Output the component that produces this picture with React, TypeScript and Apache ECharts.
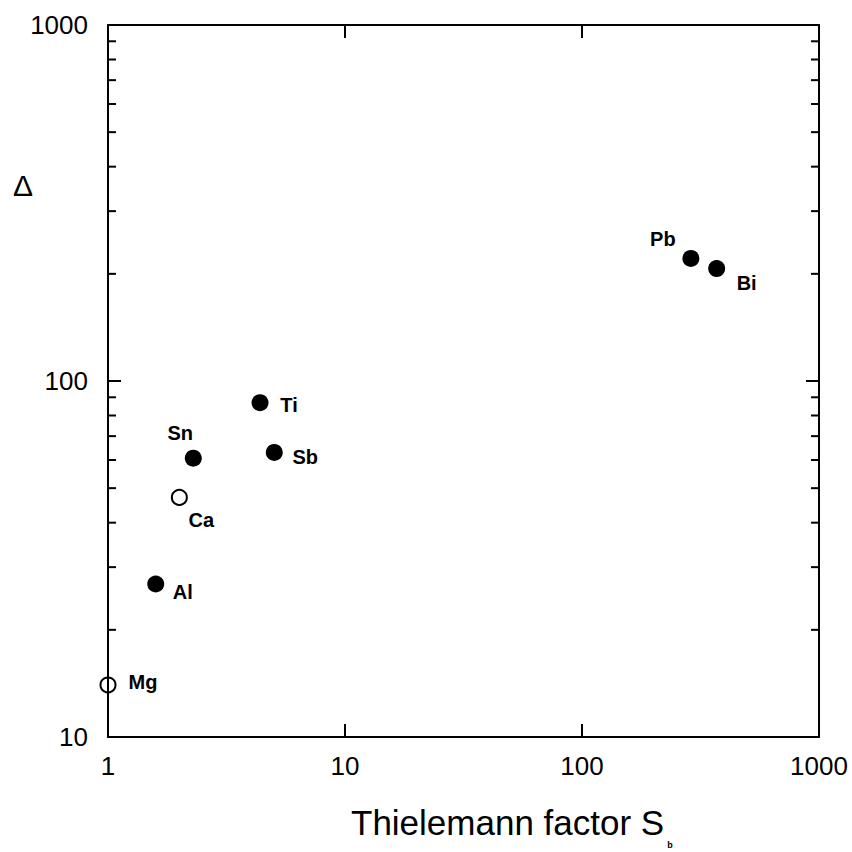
import React, { useEffect, useRef } from "react";
import * as echarts from "echarts";

// Filled symbols
const filledNames = ["Al", "Sn", "Ti", "Sb", "Pb", "Bi"];
const filledX = [1.59, 2.29, 4.38, 5.03, 288, 370];
const filledY = [26.9, 60.7, 86.9, 63.0, 221, 207];

// Open symbols
const openNames = ["Mg", "Ca"];
const openX = [1.0, 2.0];
const openY = [14.0, 47.1];

// Axis ranges and minor tick values
const xRange = [1, 1000];
const yRange = [10, 1000];
const yMinorTicks = [20, 30, 40, 50, 60, 70, 80, 90, 200, 300, 400, 500, 600, 700, 800, 900];

const xTitle = "Thielemann factor S";
const xTitleSub = "b";
const yTitle = "Δ";

// label offsets (style, in pixels)
const labelOffsets: Record<string, [number, number]> = {
  Al: [27, 8],
  Sn: [-13, -25],
  Ti: [29, 2],
  Sb: [31, 5],
  Pb: [-28, -19],
  Bi: [30, 14],
  Mg: [35, -3],
  Ca: [22, 23],
};

const FONT = "'Liberation Sans', Arial, sans-serif";

export default function App() {
  const ref = useRef<HTMLDivElement>(null);

  useEffect(() => {
    document.body.style.margin = "0";
    const chart = echarts.init(ref.current!, undefined, { renderer: "svg" });

    const axisLine = { show: true, onZero: false, lineStyle: { color: "#000", width: 2 } };
    const tick = { show: true, inside: true, length: 13, lineStyle: { color: "#000", width: 2 } };
    const fmt = (v: number) => String(Math.round(v));

    const labelBase = {
      show: true,
      position: "inside",
      formatter: "{b}",
      fontSize: 20,
      fontWeight: "bold",
      fontFamily: FONT,
      color: "#000",
      opacity: 1,
      align: "center",
      verticalAlign: "middle",
    };

    const option: any = {
      animation: false,
      backgroundColor: "#fff",
      grid: { left: 108, top: 25, right: 33, bottom: 115, containLabel: false },
      xAxis: [
        {
          type: "log",
          logBase: 10,
          min: xRange[0],
          max: xRange[1],
          position: "bottom",
          axisLine,
          axisTick: tick,
          axisLabel: { fontSize: 26, color: "#000", fontFamily: FONT, margin: 16, formatter: fmt },
          splitLine: { show: false },
          minorTick: { show: false },
        },
        {
          type: "log",
          logBase: 10,
          min: xRange[0],
          max: xRange[1],
          position: "top",
          axisLine,
          axisTick: tick,
          axisLabel: { show: false },
          splitLine: { show: false },
        },
      ],
      yAxis: [
        {
          type: "log",
          logBase: 10,
          min: yRange[0],
          max: yRange[1],
          position: "left",
          axisLine,
          axisTick: tick,
          axisLabel: { fontSize: 26, color: "#000", fontFamily: FONT, margin: 20, formatter: fmt },
          splitLine: { show: false },
        },
        {
          type: "log",
          logBase: 10,
          min: yRange[0],
          max: yRange[1],
          position: "right",
          axisLine,
          axisTick: tick,
          axisLabel: { show: false },
          splitLine: { show: false },
        },
      ],
      graphic: [
        {
          type: "text",
          x: 23,
          y: 185,
          style: { text: yTitle, fontSize: 30, fontFamily: FONT, fill: "#000", align: "center", verticalAlign: "middle" },
        },
        {
          type: "text",
          x: 351,
          y: 822,
          style: { text: xTitle, fontSize: 35, fontFamily: FONT, fill: "#000", align: "left", verticalAlign: "middle" },
        },
        {
          type: "text",
          x: 670,
          y: 845,
          style: { text: xTitleSub, fontSize: 9, fontWeight: "bold", fontFamily: FONT, fill: "#000", align: "center", verticalAlign: "middle" },
        },
      ],
      series: [
        {
          type: "custom",
          coordinateSystem: "cartesian2d",
          xAxisIndex: 0,
          yAxisIndex: 0,
          silent: true,
          clip: false,
          data: yMinorTicks.map((v) => [xRange[0], v]),
          renderItem: (params: any, api: any) => {
            const v = api.value(1);
            const l = api.coord([xRange[0], v]);
            const r = api.coord([xRange[1], v]);
            return {
              type: "group",
              children: [
                { type: "line", shape: { x1: l[0], y1: l[1], x2: l[0] + 8, y2: l[1] }, style: { stroke: "#000", lineWidth: 2 } },
                { type: "line", shape: { x1: r[0] - 8, y1: r[1], x2: r[0], y2: r[1] }, style: { stroke: "#000", lineWidth: 2 } },
              ],
            };
          },
        },
        {
          type: "scatter",
          xAxisIndex: 0,
          yAxisIndex: 0,
          clip: false,
          symbol: "circle",
          symbolSize: 17,
          itemStyle: { color: "#000", opacity: 1 },
          label: labelBase,
          emphasis: { disabled: true },
          data: filledNames.map((n, i) => ({
            name: n,
            value: [filledX[i], filledY[i]],
            label: { offset: labelOffsets[n] },
          })),
        },
        {
          type: "scatter",
          xAxisIndex: 0,
          yAxisIndex: 0,
          clip: false,
          symbol: "circle",
          symbolSize: 15,
          itemStyle: { color: "transparent", borderColor: "#000", borderWidth: 2, opacity: 1 },
          label: labelBase,
          emphasis: { disabled: true },
          data: openNames.map((n, i) => ({
            name: n,
            value: [openX[i], openY[i]],
            label: { offset: labelOffsets[n] },
          })),
        },
      ],
    };

    chart.setOption(option);
    return () => chart.dispose();
  }, []);

  return (
    <div
      ref={ref}
      style={{ position: "fixed", left: 0, top: 0, width: 852, height: 852, background: "#fff" }}
    />
  );
}
